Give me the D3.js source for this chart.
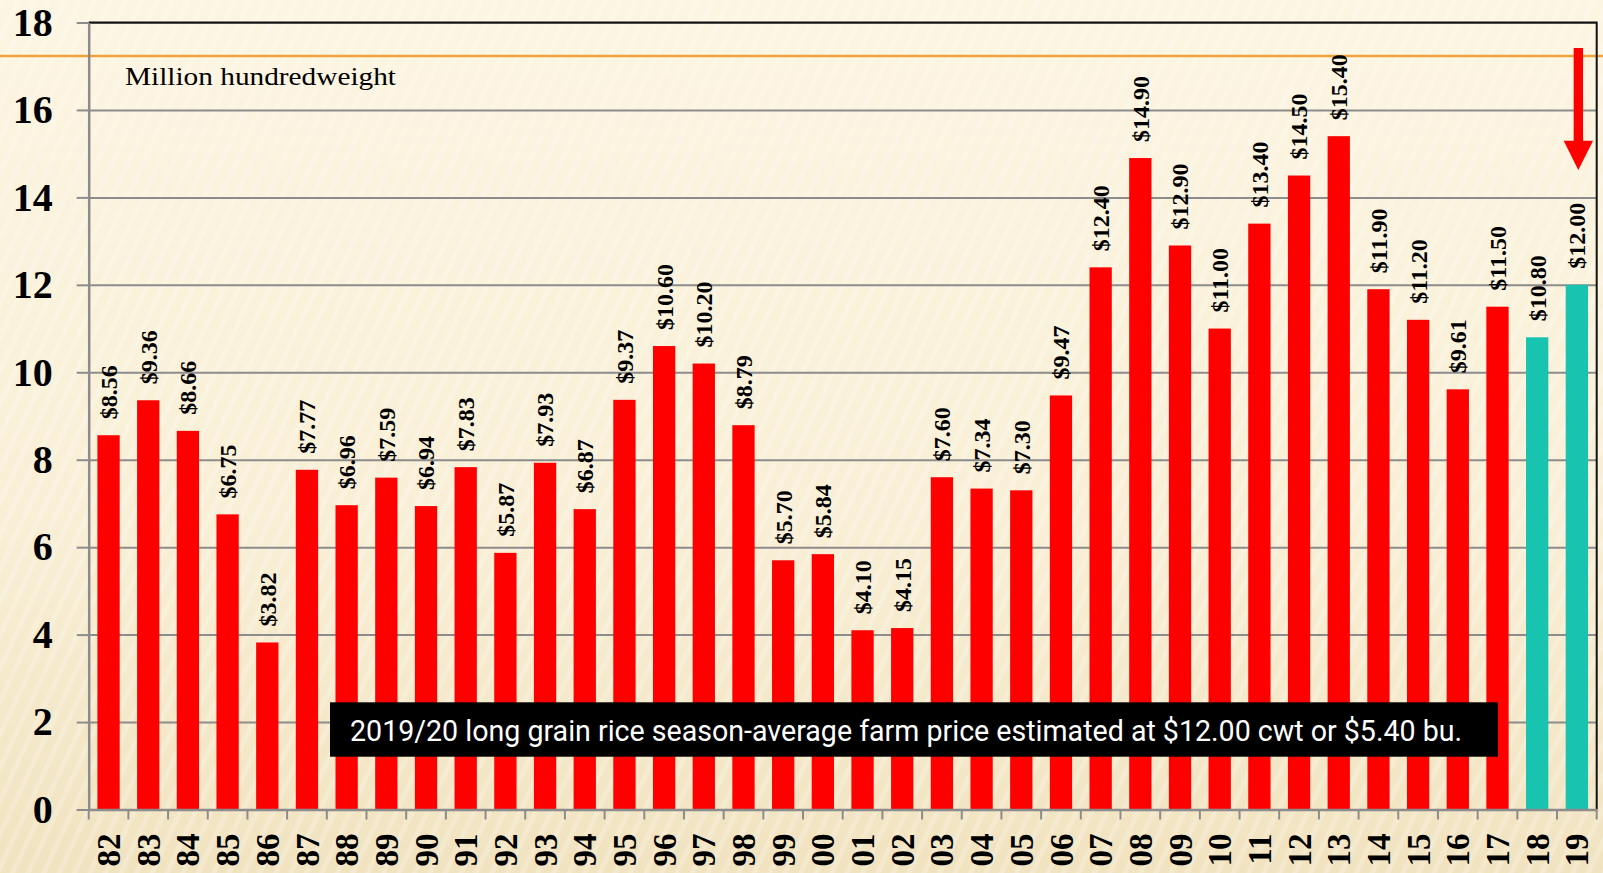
<!DOCTYPE html>
<html>
<head>
<meta charset="utf-8">
<script src="https://cdn.jsdelivr.net/npm/d3@7"></script>
<style>
    html, body { margin: 0; padding: 0; background: #fbf3dd; }
    svg { display: block; }
</style>
</head>
<body>
<svg id="chart"></svg>
<script>

// DATA

const years = ["82","83","84","85","86","87","88","89","90","91","92","93","94","95","96","97","98","99",
               "00","01","02","03","04","05","06","07","08","09","10","11","12","13","14","15","16","17","18","19"];

const prices = [8.56, 9.36, 8.66, 6.75, 3.82, 7.77, 6.96, 7.59, 6.94, 7.83, 5.87, 7.93, 6.87, 9.37,
                10.60, 10.20, 8.79, 5.70, 5.84, 4.10, 4.15, 7.60, 7.34, 7.30, 9.47, 12.40, 14.90,
                12.90, 11.00, 13.40, 14.50, 15.40, 11.90, 11.20, 9.61, 11.50, 10.80, 12.00];

const estimateYears = ["18", "19"];

const yTicks = [0, 2, 4, 6, 8, 10, 12, 14, 16, 18];

const unitLabel = "Million hundredweight";
const noteText = "2019/20 long grain rice season-average farm price estimated at $12.00 cwt or $5.40 bu.";


// SETUP

const width = 1603;
const height = 873;

const plotLeft = 88.7;
const plotRight = 1596.7;
const plotTop = 22.5;
const plotBottom = 809.5;

const serif = "'Liberation Serif', 'Times New Roman', serif";

let svg = d3.select("#chart")
    .attr("width", width)
    .attr("height", height);

let x = d3.scaleBand()
    .domain(years)
    .range([plotLeft, plotRight])
    .paddingInner(0.438)
    .paddingOuter(0.219);

let y = d3.scaleLinear()
    .domain([0, 18])
    .range([plotBottom, plotTop]);


// Background

let defs = svg.append("defs");

let grad = defs.append("linearGradient")
    .attr("id", "bg")
    .attr("x1", 0).attr("y1", 0)
    .attr("x2", 0).attr("y2", 1);

grad.append("stop").attr("offset", "0%").attr("stop-color", "#fcf5e2");
grad.append("stop").attr("offset", "60%").attr("stop-color", "#f9efd6");
grad.append("stop").attr("offset", "100%").attr("stop-color", "#f1e3c0");

let stripes = defs.append("pattern")
    .attr("id", "stripes")
    .attr("width", 14)
    .attr("height", 14)
    .attr("patternUnits", "userSpaceOnUse")
    .attr("patternTransform", "rotate(25)");

stripes.append("rect")
    .attr("width", 5)
    .attr("height", 14)
    .attr("fill", "#ffffff")
    .attr("opacity", 0.2);

svg.append("rect")
    .attr("width", width)
    .attr("height", height)
    .attr("fill", "url(#bg)");

svg.append("rect")
    .attr("width", width)
    .attr("height", height)
    .attr("fill", "url(#stripes)");


// Gridlines

svg.append("g")
    .attr("transform", `translate(${plotLeft},0)`)
    .call(d3.axisLeft(y).tickValues(yTicks).tickSize(-(plotRight - plotLeft)).tickFormat(""))
    .call(g => g.select(".domain").remove())
    .call(g => g.selectAll("line").attr("stroke", "#8c8c8c").attr("stroke-width", 2));


// Orange rule across the slide

svg.append("line")
    .attr("x1", 0)
    .attr("x2", width)
    .attr("y1", 56)
    .attr("y2", 56)
    .attr("stroke", "#f0a43a")
    .attr("stroke-width", 2.5);


// Bars

svg.selectAll(".bar")
    .data(years)
    .enter()
    .append("rect")
    .attr("class", "bar")
    .attr("x", d => x(d))
    .attr("width", x.bandwidth())
    .attr("y", (d, i) => y(prices[i]))
    .attr("height", (d, i) => y(0) - y(prices[i]))
    .attr("fill", d => estimateYears.includes(d) ? "#18c3b0" : "#ff0000");


// Value labels

svg.selectAll(".valueLabel")
    .data(years)
    .enter()
    .append("text")
    .attr("class", "valueLabel")
    .attr("transform", (d, i) => `translate(${x(d) + x.bandwidth() / 2},${y(prices[i]) - 16}) rotate(-90)`)
    .attr("dy", "0.35em")
    .attr("text-anchor", "start")
    .attr("font-family", serif)
    .attr("font-weight", "bold")
    .attr("font-size", 24)
    .attr("fill", "#000")
    .text((d, i) => d3.format("$.2f")(prices[i]));


// Plot frame (top and right)

svg.append("path")
    .attr("d", `M${plotLeft},${plotTop}H${plotRight}V${plotBottom}`)
    .attr("fill", "none")
    .attr("stroke", "#111")
    .attr("stroke-width", 2);


// Y axis

let yAxis = svg.append("g")
    .attr("transform", `translate(${plotLeft},0)`)
    .call(d3.axisLeft(y).tickValues(yTicks).tickSize(12).tickPadding(24).tickSizeOuter(0));

yAxis.select(".domain").attr("stroke", "#8c8c8c").attr("stroke-width", 2.5);
yAxis.selectAll("line").attr("stroke", "#8c8c8c").attr("stroke-width", 2);
yAxis.selectAll("text")
    .attr("font-family", serif)
    .attr("font-weight", "bold")
    .attr("font-size", 40)
    .attr("fill", "#000");


// X axis

let xAxis = svg.append("g")
    .attr("transform", `translate(0,${plotBottom})`)
    .call(d3.axisBottom(x).tickSize(0).tickSizeOuter(0));

xAxis.select(".domain").attr("stroke", "#8c8c8c").attr("stroke-width", 2.5);

xAxis.selectAll("text")
    .attr("transform", "translate(0,24) rotate(-90)")
    .attr("x", 0)
    .attr("y", 0)
    .attr("dy", "0.35em")
    .attr("text-anchor", "end")
    .attr("font-family", serif)
    .attr("font-weight", "bold")
    .attr("font-size", 33)
    .attr("fill", "#000");

// ticks at band boundaries
let boundaries = years.map(d => x(d) - x.step() * x.paddingInner() / 2);
boundaries.push(plotRight);

xAxis.selectAll(".boundary")
    .data(boundaries)
    .enter()
    .append("line")
    .attr("class", "boundary")
    .attr("x1", d => d)
    .attr("x2", d => d)
    .attr("y1", 0)
    .attr("y2", 10)
    .attr("stroke", "#8c8c8c")
    .attr("stroke-width", 2);


// Unit label

svg.append("text")
    .attr("x", 125)
    .attr("y", 85)
    .attr("font-family", serif)
    .attr("font-size", 25)
    .attr("fill", "#000")
    .attr("textLength", 271)
    .attr("lengthAdjust", "spacingAndGlyphs")
    .text(unitLabel);


// Arrow over the 2019 estimate

let arrowX = x("19") + x.bandwidth() / 2 + 1.5;

svg.append("rect")
    .attr("x", arrowX - 4.7)
    .attr("y", 48)
    .attr("width", 9.4)
    .attr("height", 95)
    .attr("fill", "#ff0000");

svg.append("path")
    .attr("d", `M${arrowX - 14.7},140.7 L${arrowX + 14.7},140.7 L${arrowX},170 Z`)
    .attr("fill", "#ff0000");


// Note box

svg.append("rect")
    .attr("x", 330)
    .attr("y", 702.3)
    .attr("width", 1168)
    .attr("height", 54.4)
    .attr("fill", "#000");

svg.append("text")
    .attr("x", 350)
    .attr("y", 740.7)
    .attr("font-family", "Roboto, 'Liberation Sans', sans-serif")
    .attr("font-size", 30)
    .attr("fill", "#fff")
    .attr("textLength", 1112)
    .attr("lengthAdjust", "spacingAndGlyphs")
    .text(noteText);

</script>
</body>
</html>
